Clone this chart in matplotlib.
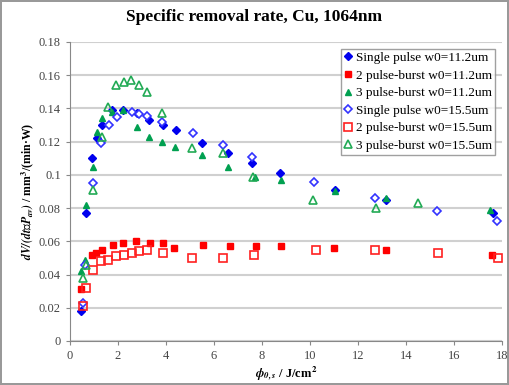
import numpy as np
import matplotlib.pyplot as plt

plt.rcParams['font.family'] = ['Liberation Serif', 'DejaVu Serif']
plt.rcParams['mathtext.fontset'] = 'stix'

# single pulse w0=11.2um
sp112_x = [0.45, 0.67, 0.90, 1.11, 1.32, 1.74, 2.22, 2.78, 3.31, 3.86, 4.43, 5.49, 6.57, 7.60, 8.77, 11.04, 13.17, 17.64]
sp112_y = [0.018, 0.077, 0.110, 0.122, 0.130, 0.139, 0.139, 0.137, 0.133, 0.130, 0.127, 0.119, 0.113, 0.107, 0.101, 0.091, 0.085, 0.077]
# 2 pulse-burst w0=11.2um
b2112_x = [0.46, 0.90, 1.08, 1.35, 1.78, 2.22, 2.75, 3.33, 3.86, 4.35, 5.53, 6.67, 7.74, 8.78, 11.01, 13.19, 17.60]
b2112_y = [0.031, 0.052, 0.053, 0.055, 0.058, 0.059, 0.060, 0.059, 0.059, 0.056, 0.058, 0.057, 0.057, 0.057, 0.056, 0.055, 0.052]
# 3 pulse-burst w0=11.2um
b3112_x = [0.45, 0.62, 0.67, 0.94, 1.13, 1.33, 1.76, 2.22, 2.78, 3.31, 3.85, 4.38, 5.49, 6.60, 7.71, 8.78, 11.04, 13.17, 17.50]
b3112_y = [0.042, 0.049, 0.082, 0.105, 0.126, 0.134, 0.138, 0.139, 0.129, 0.123, 0.120, 0.117, 0.112, 0.105, 0.099, 0.097, 0.090, 0.086, 0.079]
# single pulse w0=15.5um
sp155_x = [0.53, 0.62, 0.97, 1.28, 1.63, 1.94, 2.57, 2.88, 3.19, 3.82, 5.14, 6.36, 7.58, 10.18, 12.70, 15.28, 17.78]
sp155_y = [0.023, 0.046, 0.095, 0.119, 0.130, 0.135, 0.1376, 0.1367, 0.1355, 0.132, 0.125, 0.118, 0.111, 0.096, 0.086, 0.078, 0.072]
# 2 pulse-burst w0=15.5um
b2155_x = [0.53, 0.67, 0.97, 1.29, 1.60, 1.92, 2.25, 2.57, 2.89, 3.19, 3.86, 5.07, 6.36, 7.68, 10.25, 12.71, 15.35, 17.85]
b2155_y = [0.021, 0.032, 0.043, 0.048, 0.049, 0.051, 0.052, 0.053, 0.054, 0.055, 0.053, 0.050, 0.050, 0.052, 0.055, 0.055, 0.053, 0.050]
# 3 pulse-burst w0=15.5um
b3155_x = [0.53, 0.65, 0.97, 1.32, 1.60, 1.92, 2.26, 2.54, 2.88, 3.19, 3.85, 5.10, 6.36, 7.61, 10.14, 12.74, 14.50]
b3155_y = [0.038, 0.046, 0.091, 0.123, 0.141, 0.154, 0.156, 0.157, 0.154, 0.150, 0.137, 0.116, 0.113, 0.099, 0.085, 0.080, 0.083]

fig = plt.figure(figsize=(5.09, 3.85), dpi=100)
fig.patch.set_edgecolor('#999999')
fig.patch.set_linewidth(1.5)
ax = fig.add_axes([0.1375, 0.1143, 0.8485, 0.7767])

ax.plot(sp112_x, sp112_y, 'D', color='#0000ee', ms=4.5, label='Single pulse w0=11.2um')
ax.plot(b2112_x, b2112_y, 's', color='#ff0000', ms=4.5, label='2 pulse-burst w0=11.2um')
ax.plot(b3112_x, b3112_y, '^', color='#00a050', ms=4.5, label='3 pulse-burst w0=11.2um')
ax.plot(sp155_x, sp155_y, 'D', mfc='white', mec='#3333ff', mew=1.2, ms=4.5, label='Single pulse w0=15.5um')
ax.plot(b2155_x, b2155_y, 's', mfc='none', mec='#ff2020', mew=1.2, ms=6, label='2 pulse-burst w0=15.5um')
ax.plot(b3155_x, b3155_y, '^', mfc='none', mec='#22aa55', mew=1.2, ms=6, label='3 pulse-burst w0=15.5um')

ax.set_xlim(0, 18)
ax.set_ylim(0, 0.18)
ax.set_xticks(np.arange(0, 19, 2))
ax.set_yticks(np.arange(0, 0.181, 0.02))
ax.set_yticklabels(['0', '0.02', '0.04', '0.06', '0.08', '0.1', '0.12', '0.14', '0.16', '0.18'])
ax.grid(axis='y', color='#d0d0d0', lw=1.5)
ax.set_axisbelow(True)
for s in ['top', 'right']:
    ax.spines[s].set_visible(False)
ax.spines['left'].set_color('#888888')
ax.spines['bottom'].set_color('#888888')
ax.tick_params(colors='#444444', labelsize=9, length=3, color='#888888')

fig.text(0.5, 0.955, 'Specific removal rate, Cu, 1064nm', fontsize=12.5, fontweight='bold', ha='center', va='center')
ax.set_xlabel(r'$\mathbfit{\phi_{0,s}}$ / J/cm$^\mathbf{2}$', fontsize=9, fontweight='bold', labelpad=2)
ax.set_ylabel(r'$\mathbfit{dV/(dt{\cdot}P_{av})}$ / mm$^\mathbf{3}$/(min·W)', fontsize=8.5, fontweight='bold', labelpad=2)

leg = ax.legend(loc='upper right', fontsize=9.5, frameon=True, fancybox=False, edgecolor='#888888',
                handlelength=0.6, handletextpad=0.3, borderpad=0.25, labelspacing=0.4,
                bbox_to_anchor=(1.0, 1.0))
leg.get_frame().set_linewidth(1.0)

fig.savefig('out.png', dpi=100)
